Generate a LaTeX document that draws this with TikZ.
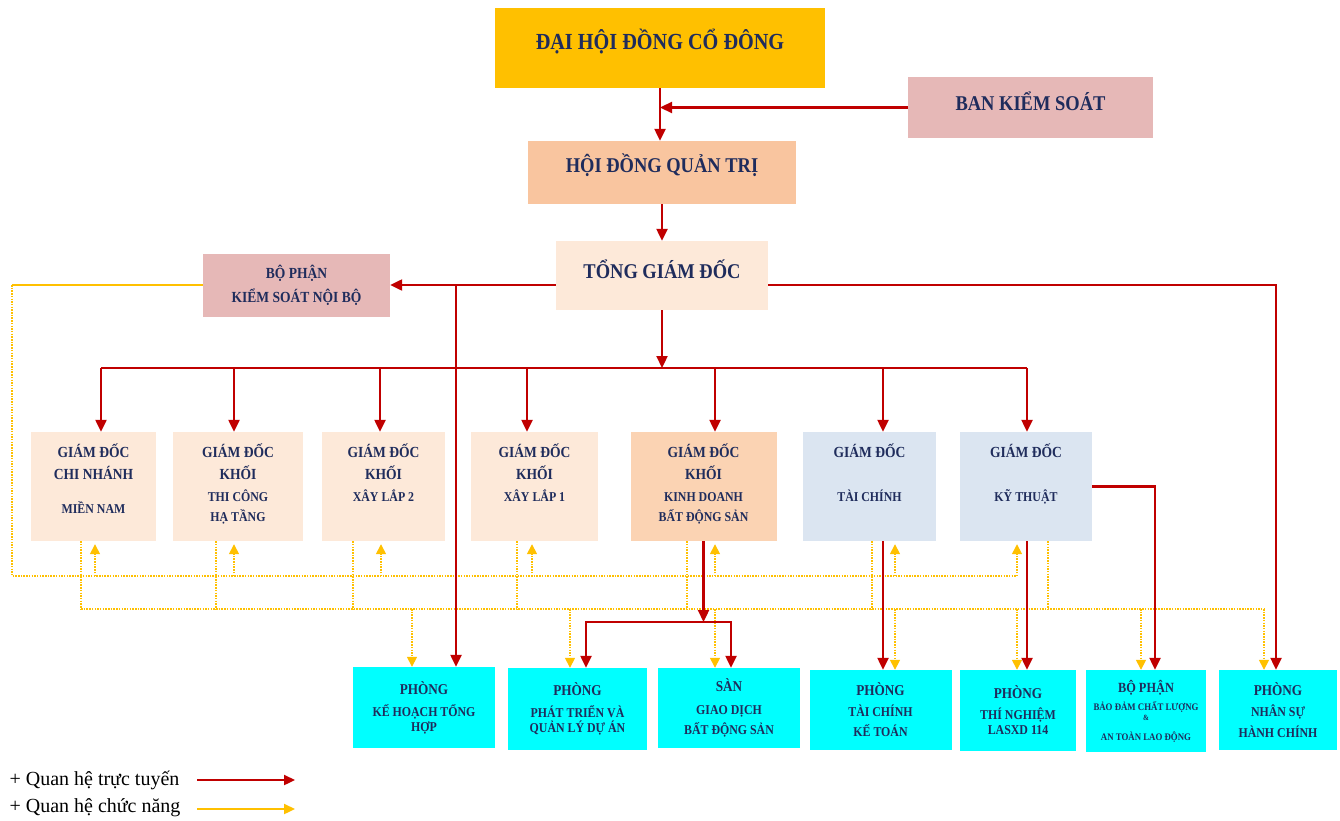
\documentclass[tikz,border=0pt]{standalone}
\usepackage{fontspec}
\setmainfont{Liberation Serif}
\newfontfamily\boxfont[FakeStretch=0.88]{Liberation Serif}
\usetikzlibrary{arrows.meta}
\usepackage{xcolor}
\definecolor{amber}{HTML}{FFC000}
\definecolor{rose}{HTML}{E6B8B7}
\definecolor{peach}{HTML}{F9C59F}
\definecolor{cream}{HTML}{FDE9D9}
\definecolor{apricot}{HTML}{FBD3B3}
\definecolor{sky}{HTML}{DBE5F1}
\definecolor{aqua}{HTML}{00FFFF}
\definecolor{ink}{HTML}{1F2C5C}
\definecolor{linered}{HTML}{C00000}
\definecolor{lineyellow}{HTML}{FFC000}
\tikzset{
  every node/.style={text=ink},
  box/.style={rectangle,inner sep=0pt,align=center,font=\boxfont\bfseries},
  topbox/.style={box,text height=19pt,font=\boxfont\bfseries\fontsize{21}{24}\selectfont},
  gdbox/.style={box,fill=cream,inner ysep=12pt,minimum height=109pt,font=\boxfont\bfseries\fontsize{15.4}{22}\selectfont},
  phongbox/.style={box,fill=aqua,font=\boxfont\bfseries\fontsize{15}{21}\selectfont},
  tuyen/.style={draw=linered,line width=2.3pt},
  tuyenarr/.style={tuyen,-{Triangle[length=12pt,width=11pt]}},
  chucnang/.style={draw=lineyellow,line width=1.5pt,dash pattern=on 1.5pt off 1.2pt},
  chucnangarr/.style={chucnang,-{Triangle[length=10pt,width=10pt]}},
  legendtxt/.style={anchor=west,text=black,font=\fontsize{20}{24}\selectfont},
}
\newcommand{\gdtext}[1]{\parbox[c][85pt][t]{112pt}{\centering #1}}
\newcommand{\subtxt}{\fontsize{13.5}{22}\selectfont}
\newcommand{\tinytxt}{\fontsize{10}{21}\selectfont}

\begin{document}
\begin{tikzpicture}[x=1pt,y=-1pt]
\fill[white] (0,0) rectangle (1340,821);
\useasboundingbox (0,0) rectangle (1340,821);

% cap tren
\node[topbox,fill=amber,minimum width=330pt,minimum height=80pt,text height=21.5pt,text depth=18pt,font=\boxfont\bfseries\fontsize{23}{26}\selectfont] (dhcd) at (660,48) {ĐẠI HỘI ĐỒNG CỔ ĐÔNG};
\node[topbox,fill=rose,minimum width=245pt,minimum height=61pt,text depth=12pt] (bks) at (1030.5,107.5) {BAN KIỂM SOÁT};
\node[topbox,fill=peach,minimum width=268pt,minimum height=63pt,text depth=20pt] (hdqt) at (662,172.5) {HỘI ĐỒNG QUẢN TRỊ};
\node[topbox,fill=cream,minimum width=212pt,minimum height=69pt,text depth=14pt] (tgd) at (662,275.5) {TỔNG GIÁM ĐỐC};
\node[box,fill=rose,minimum width=187pt,minimum height=63pt,font=\boxfont\bfseries\fontsize{15.4}{24}\selectfont] (bpks) at (296.5,285) {BỘ PHẬN\\KIỂM SOÁT NỘI BỘ};

% giam doc
\node[gdbox,minimum width=125pt] (gdcn) at (93.5,486.5) {\gdtext{GIÁM ĐỐC\\CHI NHÁNH\\[12pt]{\subtxt MIỀN NAM}}};
\node[gdbox,minimum width=130pt] (gdht) at (238,486.5) {\gdtext{GIÁM ĐỐC\\KHỐI\\{\subtxt THI CÔNG}\\[-2pt]{\subtxt HẠ TẦNG}}};
\node[gdbox,minimum width=123pt] (gdxl2) at (383.5,486.5) {\gdtext{GIÁM ĐỐC\\KHỐI\\{\subtxt XÂY LẮP 2}}};
\node[gdbox,minimum width=127pt] (gdxl1) at (534.5,486.5) {\gdtext{GIÁM ĐỐC\\KHỐI\\{\subtxt XÂY LẮP 1}}};
\node[gdbox,fill=apricot,minimum width=146pt] (gdbds) at (703.5,486.5) {\gdtext{GIÁM ĐỐC\\KHỐI\\{\subtxt KINH DOANH}\\[-2pt]{\subtxt BẤT ĐỘNG SẢN}}};
\node[gdbox,fill=sky,minimum width=133pt] (gdtc) at (869.5,486.5) {\gdtext{GIÁM ĐỐC\\[22pt]{\subtxt TÀI CHÍNH}}};
\node[gdbox,fill=sky,minimum width=132pt] (gdkt) at (1026,486.5) {\gdtext{GIÁM ĐỐC\\[22pt]{\subtxt KỸ THUẬT}}};

% phong ban
\node[phongbox,minimum width=142pt,minimum height=81pt] (khth) at (424,707.5) {PHÒNG\\[1pt]{\subtxt KẾ HOẠCH TỔNG}\\[-6pt]{\subtxt HỢP}};
\node[phongbox,minimum width=139pt,minimum height=82pt] (ptql) at (577.5,709) {PHÒNG\\[1pt]{\subtxt PHÁT TRIỂN VÀ}\\[-6pt]{\subtxt QUẢN LÝ DỰ ÁN}};
\node[phongbox,minimum width=142pt,minimum height=80pt] (sgd) at (729,708) {SÀN\\[2pt]{\subtxt GIAO DỊCH}\\[-1pt]{\subtxt BẤT ĐỘNG SẢN}};
\node[phongbox,minimum width=142pt,minimum height=80pt] (tckt) at (880.5,710) {PHÒNG\\{\subtxt TÀI CHÍNH}\\[-1pt]{\subtxt KẾ TOÁN}};
\node[phongbox,minimum width=116pt,minimum height=81pt] (tn) at (1018,710.5) {PHÒNG\\{\subtxt THÍ NGHIỆM}\\[-6pt]{\subtxt LASXD 114}};
\node[phongbox,minimum width=120pt,minimum height=82pt] (bdcl) at (1146,711) {{\fontsize{14}{21}\selectfont BỘ PHẬN}\\[-3pt]{\tinytxt BẢO ĐẢM CHẤT LƯỢNG}\\[-11pt]{\fontsize{8}{10}\selectfont\&}\\[-1pt]{\tinytxt AN TOÀN LAO ĐỘNG}};
\node[phongbox,minimum width=118pt,minimum height=80pt] (nshc) at (1278,710) {PHÒNG\\{\subtxt NHÂN SỰ}\\{\subtxt HÀNH CHÍNH}};

% diem noi
\foreach \n/\rx/\ux/\dx in {gdcn/7.5/1.5/-12.5, gdht/-4/-4/-22, gdxl2/-3.5/-2.5/-30.5, gdxl1/-7.5/-2.5/-17.5, gdbds/11.5/11.5/-16.5, gdtc/13.5/25.5/2.5, gdkt/1/-9/22}{
  \coordinate (\n-in) at ([xshift=\rx pt]\n.north);
  \coordinate (\n-up) at ([xshift=\ux pt]\n.south);
  \coordinate (\n-dn) at ([xshift=\dx pt]\n.south);
}
\foreach \n/\rx/\yx in {khth/32/-12, ptql/8.5/-7.5, sgd/2/-14, tckt/2.5/14.5, tn/9/-1, bdcl/9/-5, nshc/-2/-14}{
  \coordinate (\n-r) at ([xshift=\rx pt]\n.north);
  \coordinate (\n-y) at ([xshift=\yx pt]\n.north);
}
\coordinate (rbus) at (662,368);
\coordinate (ybus1) at (12,576);
\coordinate (ybus2) at (81,609);
\coordinate (fork) at (703.5,622);

% quan he chuc nang
\draw[draw=lineyellow,line width=2pt] (bpks.west) -- (bpks.west -| ybus1);
\draw[chucnang] (bpks.west -| ybus1) -- (ybus1) -- (gdkt-up |- ybus1);
\foreach \n in {gdcn,gdht,gdxl2,gdxl1,gdbds,gdtc,gdkt}{
  \draw[chucnangarr,shorten >=3pt] (\n-up |- ybus1) -- (\n-up);
  \draw[chucnang] (\n-dn) -- (\n-dn |- ybus2);
}
\draw[chucnang] (ybus2) -- (nshc-y |- ybus2);
\foreach \n in {khth,ptql,sgd,tckt,tn,bdcl,nshc}{\draw[chucnangarr] (\n-y |- ybus2) -- (\n-y);}

% quan he truc tuyen
\draw[tuyenarr] (dhcd.south) -- (dhcd.south |- hdqt.north);
\draw[tuyenarr] (bks.west) -- (bks.west -| dhcd.south);
\draw[tuyenarr] (hdqt.south) -- (tgd.north);
\draw[tuyenarr] (tgd.south) -- (rbus);
\draw[tuyen] (gdcn-in |- rbus) -- (gdkt-in |- rbus);
\foreach \n in {gdcn,gdht,gdxl2,gdxl1,gdbds,gdtc,gdkt}{\draw[tuyenarr] (\n-in |- rbus) -- (\n-in);}
\draw[tuyenarr] (tgd.west |- bpks.east) -- (bpks.east);
\draw[tuyenarr] (khth-r |- bpks.east) -- (khth-r);
\draw[tuyenarr] (tgd.east |- bpks.east) -| (nshc-r);
\draw[tuyenarr] (gdbds.south) -- (fork);
\draw[tuyenarr] (fork) -| (ptql-r);
\draw[tuyenarr] (fork) -| (sgd-r);
\draw[tuyenarr] (tckt-r |- gdtc.south) -- (tckt-r);
\draw[tuyenarr] (tn-r |- gdkt.south) -- (tn-r);
\draw[tuyenarr] (gdkt.east) -| (bdcl-r);

% chu thich
\node[legendtxt] (leg1) at (6,780) {+ Quan hệ trực tuyến};
\node[legendtxt] (leg2) at (6,808) {+ Quan hệ chức năng};
\coordinate (lg1) at (197,780);
\coordinate (lg2) at (197,809);
\draw[tuyen,-{Triangle[length=11pt,width=10pt]}] (lg1) -- ++(98,0);
\draw[draw=lineyellow,line width=2.3pt,-{Triangle[length=11pt,width=10pt]}] (lg2) -- ++(98,0);

\end{tikzpicture}
\end{document}
